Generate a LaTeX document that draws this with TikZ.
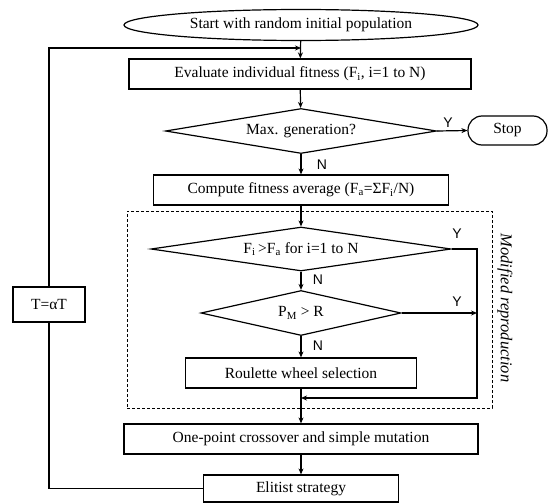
\documentclass[tikz,border=0pt]{standalone}
\usepackage{fontspec}
\setmainfont{Liberation Serif}
\newfontfamily\labfont{Liberation Sans}
\usetikzlibrary{shapes.geometric,arrows.meta}
\begin{document}
\begin{tikzpicture}[x=1pt,y=-1pt,
  txt/.style={font=\fontsize{15.5}{18}\selectfont},
  box/.style={draw, line width=1.2pt, rectangle, inner sep=0pt, txt},
  dia/.style={draw, line width=1.2pt, diamond, inner sep=0pt, txt},
  line/.style={line width=1.2pt},
  arr/.style={line width=1.2pt, -{Stealth[length=6pt,width=5pt]}},
  lab/.style={font=\labfont\fontsize{14}{16}\selectfont, inner sep=0pt},
  frame/.style={draw, line width=0.6pt, dash pattern=on 3pt off 2pt, rectangle, inner sep=0pt}
]
\useasboundingbox (0,0) rectangle (549,503);

\node[frame, minimum width=365pt, minimum height=197pt] (fr) at (309.5,309.5) {};
\node[font=\itshape\fontsize{16.5}{18}\selectfont, rotate=-90, inner sep=0pt] (mr) at (505,308) {Modified reproduction};

\node[box, ellipse, minimum width=354pt, minimum height=31pt] (start) at (301,25) {Start with random initial population};
\node[box, minimum width=342pt, minimum height=30pt] (eval) at (300,74) {Evaluate individual fitness (F\textsubscript{i}, i=1 to N)};
\node[dia, minimum width=271pt, minimum height=45pt, shape aspect=6] (d1) at (301,131) {Max. generation?};
\node[box, rounded corners=14pt, minimum width=79pt, minimum height=29pt] (stop) at (507.5,130.5) {Stop};
\node[box, minimum width=295pt, minimum height=30pt] (comp) at (301,190) {Compute\ fitness\ average (F\textsubscript{a}=ΣF\textsubscript{i}/N)};
\node[dia, minimum width=300pt, minimum height=44pt, shape aspect=6.8] (d2) at (301,249) {F\textsubscript{i}\,>F\textsubscript{a} for i=1 to N};
\node[dia, minimum width=200pt, minimum height=45pt, shape aspect=4.4] (d3) at (301,313) {P\textsubscript{M} > R};
\node[box, minimum width=231pt, minimum height=30pt] (roul) at (301,373) {Roulette\ wheel selection};
\node[box, minimum width=354pt, minimum height=30pt] (one) at (301,439) {One-point\ crossover and simple mutation};
\node[box, minimum width=195pt, minimum height=27pt] (elit) at (301,488.5) {Elitist strategy};
\node[box, minimum width=72pt, minimum height=35pt] (tbox) at (49,304.5) {T=αT};

\node[lab] (y1) at (448,123) {Y};
\node[lab] (n1) at (322,165) {N};
\node[lab] (y2) at (457,234) {Y};
\node[lab] (n2) at (318,280) {N};
\node[lab] (y3) at (457,302) {Y};
\node[lab] (n3) at (318,346) {N};

\coordinate (r1) at (477,249);
\coordinate (r2) at (477,398);
\coordinate (m) at (301,398);
\coordinate (fb) at (301,48);

\draw[arr] (start) -- (eval);
\draw[arr] (eval) -- (d1);
\draw[arr] (d1.east) -- (stop.west);
\draw[arr] (d1.south) -- (comp.north);
\draw[arr] (comp) -- (d2);
\draw[arr] (d2.east) -- (r1) -- (r2) -- (m);
\draw[arr] (d2.south) -- (d3.north);
\draw[arr] (d3.east) -- (d3.east -| r1);
\draw[arr] (d3.south) -- (roul.north);
\draw[arr] (roul.south) -- (one.north);
\draw[arr] (one) -- (elit);
\draw[line] (elit.west) -| (tbox.south);
\draw[arr] (tbox.north) |- (fb);
\end{tikzpicture}
\end{document}
